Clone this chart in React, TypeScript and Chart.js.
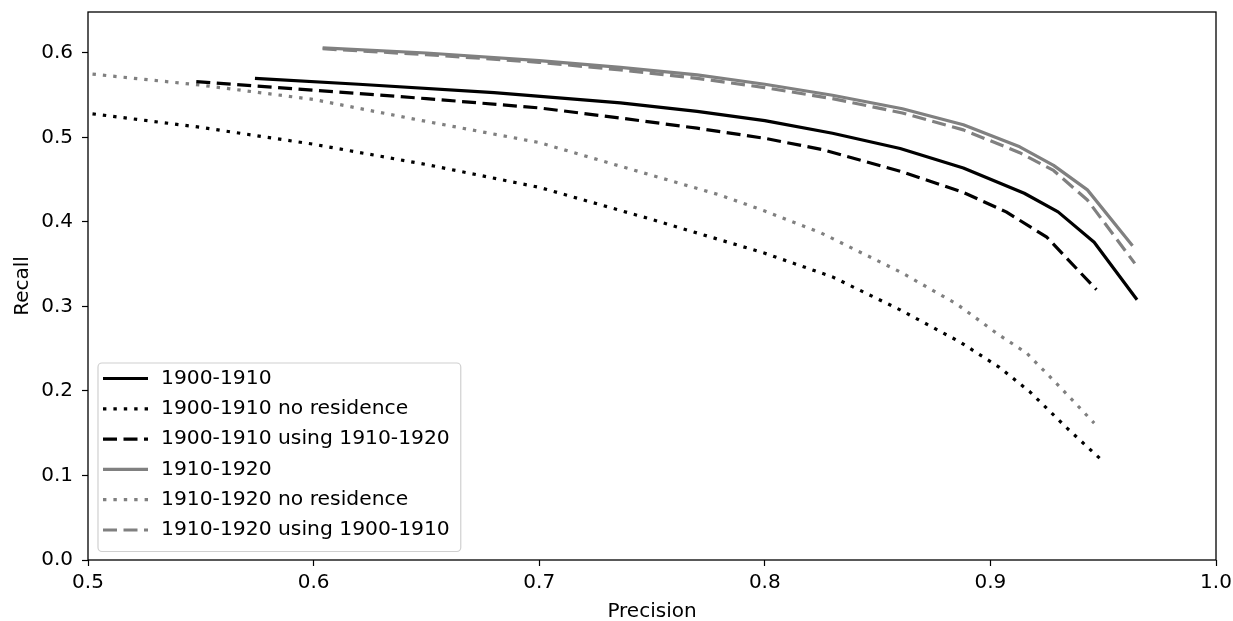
import React, { useEffect, useRef } from 'react';
import { Chart, registerables } from 'chart.js';

Chart.register(...registerables);

const FONT_FAMILY = '"DejaVu Sans", "Liberation Sans", sans-serif';
const FONT_SIZE = 20;
const LEGEND_FONT_SIZE = 20.3;

// Axis ticks
const xTickValues = [0.5, 0.6, 0.7, 0.8, 0.9, 1.0];
const yTickValues = [0.0, 0.1, 0.2, 0.3, 0.4, 0.5, 0.6];

// Series labels
const seriesLabels = [
  '1900-1910',
  '1900-1910 no residence',
  '1900-1910 using 1910-1920',
  '1910-1920',
  '1910-1920 no residence',
  '1910-1920 using 1900-1910',
];

// 1900-1910
const s1Precision = [0.574, 0.62, 0.68, 0.736, 0.77, 0.80, 0.83, 0.86, 0.888, 0.915, 0.93, 0.946, 0.965];
const s1Recall = [0.570, 0.563, 0.553, 0.541, 0.531, 0.520, 0.505, 0.487, 0.464, 0.434, 0.412, 0.376, 0.308];

// 1900-1910 no residence
const s2Precision = [0.502, 0.55, 0.6, 0.65, 0.7, 0.75, 0.8, 0.83, 0.86, 0.8865, 0.904, 0.9175, 0.934, 0.949];
const s2Recall = [0.528, 0.512, 0.492, 0.468, 0.441, 0.403, 0.363, 0.335, 0.296, 0.258, 0.228, 0.199, 0.156, 0.119];

// 1900-1910 using 1910-1920
const s3Precision = [0.548, 0.6, 0.65, 0.7, 0.736, 0.77, 0.8, 0.825, 0.86, 0.888, 0.907, 0.925, 0.947];
const s3Recall = [0.566, 0.556, 0.546, 0.535, 0.523, 0.511, 0.499, 0.486, 0.460, 0.435, 0.412, 0.382, 0.320];

// 1910-1920
const s4Precision = [0.604, 0.65, 0.7, 0.736, 0.77, 0.8, 0.83, 0.861, 0.888, 0.913, 0.928, 0.943, 0.963];
const s4Recall = [0.606, 0.600, 0.591, 0.583, 0.574, 0.563, 0.550, 0.534, 0.515, 0.489, 0.467, 0.438, 0.372];

// 1910-1920 no residence
const s5Precision = [0.502, 0.55, 0.6, 0.644, 0.7, 0.736, 0.78, 0.8, 0.825, 0.86, 0.885, 0.904, 0.916, 0.93, 0.946];
const s5Recall = [0.575, 0.562, 0.545, 0.522, 0.494, 0.466, 0.432, 0.413, 0.387, 0.341, 0.303, 0.266, 0.245, 0.207, 0.162];

// 1910-1920 using 1900-1910
const s6Precision = [0.604, 0.65, 0.7, 0.736, 0.77, 0.8, 0.83, 0.861, 0.888, 0.913, 0.928, 0.943, 0.964];
const s6Recall = [0.605, 0.598, 0.589, 0.580, 0.570, 0.559, 0.546, 0.529, 0.509, 0.482, 0.461, 0.426, 0.351];

const BLACK = '#000000';
const GREY = '#808080';
const LW = 3.2;
const SOLID: number[] = [];
const DASHED = [14, 6.5];
const DOTTED = [3.4, 7];

const toPoints = (xs: number[], ys: number[]) => xs.map((x, i) => ({ x, y: ys[i] }));

const framePlugin = {
  id: 'frame',
  afterDatasetsDraw(chart: any) {
    const { ctx, chartArea: ca } = chart;
    ctx.save();
    ctx.strokeStyle = '#000';
    ctx.lineWidth = 1.3;
    ctx.setLineDash([]);
    ctx.strokeRect(ca.left, ca.top, ca.right - ca.left, ca.bottom - ca.top);
    ctx.restore();
  },
};

const legendPlugin = {
  id: 'boxLegend',
  afterDraw(chart: any) {
    const { ctx, chartArea: ca } = chart;
    const datasets = chart.data.datasets;
    ctx.save();
    ctx.font = `${LEGEND_FONT_SIZE}px ${FONT_FAMILY}`;
    let maxW = 0;
    datasets.forEach((ds: any) => {
      maxW = Math.max(maxW, ctx.measureText(ds.label).width);
    });
    const left = ca.left + 10;
    const bottom = ca.bottom - 8.5;
    const height = 188.5;
    const top = bottom - height;
    const textX = left + 64;
    const width = 64 + maxW + 10;
    const r = 4;
    ctx.beginPath();
    ctx.moveTo(left + r, top);
    ctx.lineTo(left + width - r, top);
    ctx.arcTo(left + width, top, left + width, top + r, r);
    ctx.lineTo(left + width, bottom - r);
    ctx.arcTo(left + width, bottom, left + width - r, bottom, r);
    ctx.lineTo(left + r, bottom);
    ctx.arcTo(left, bottom, left, bottom - r, r);
    ctx.lineTo(left, top + r);
    ctx.arcTo(left, top, left + r, top, r);
    ctx.closePath();
    ctx.fillStyle = 'rgba(255,255,255,0.8)';
    ctx.fill();
    ctx.strokeStyle = '#d0d0d0';
    ctx.lineWidth = 1.2;
    ctx.stroke();

    datasets.forEach((ds: any, i: number) => {
      const y = top + 15.5 + i * 30.3;
      ctx.beginPath();
      ctx.setLineDash(ds.borderDash || []);
      ctx.lineCap = 'butt';
      ctx.lineWidth = ds.borderWidth;
      ctx.strokeStyle = ds.borderColor;
      ctx.moveTo(left + 5, y);
      ctx.lineTo(left + 50, y);
      ctx.stroke();
      ctx.setLineDash([]);
      ctx.fillStyle = '#000';
      ctx.textBaseline = 'middle';
      ctx.textAlign = 'left';
      ctx.fillText(ds.label, textX - 1, y);
    });
    ctx.restore();
  },
};

const zeroPadding = (s: any) => {
  s.paddingTop = 0;
  s.paddingBottom = 0;
  s.paddingLeft = 0;
  s.paddingRight = 0;
};

export default function App() {
  const ref = useRef<HTMLCanvasElement>(null);

  useEffect(() => {
    const canvas = ref.current;
    if (!canvas) return;
    const mk = (i: number, xs: number[], ys: number[], color: string, dash: number[]) => ({
      label: seriesLabels[i],
      data: toPoints(xs, ys),
      borderColor: color,
      backgroundColor: color,
      borderWidth: LW,
      borderDash: dash,
      borderCapStyle: 'butt' as const,
      borderJoinStyle: 'round' as const,
      pointRadius: 0,
      fill: false,
      tension: 0,
    });
    const chart = new Chart(canvas, {
      type: 'line',
      data: {
        datasets: [
          mk(0, s1Precision, s1Recall, BLACK, SOLID),
          mk(1, s2Precision, s2Recall, BLACK, DOTTED),
          mk(2, s3Precision, s3Recall, BLACK, DASHED),
          mk(3, s4Precision, s4Recall, GREY, SOLID),
          mk(4, s5Precision, s5Recall, GREY, DOTTED),
          mk(5, s6Precision, s6Recall, GREY, DASHED),
        ],
      },
      options: {
        responsive: false,
        animation: false,
        devicePixelRatio: 1,
        layout: { padding: { left: 0, top: 12, right: 17, bottom: 0 } },
        plugins: {
          legend: { display: false },
          tooltip: { enabled: false },
        },
        scales: {
          x: {
            type: 'linear',
            min: 0.5,
            max: 1.0,
            afterBuildTicks: (s: any) => {
              s.ticks = xTickValues.map((v) => ({ value: v }));
            },
            afterFit: (s: any) => {
              s.height = 61;
              zeroPadding(s);
            },
            ticks: {
              color: '#000',
              padding: 5,
              font: { family: FONT_FAMILY, size: FONT_SIZE, lineHeight: 1.2 },
              callback: (v: any) => Number(v).toFixed(1),
              maxRotation: 0,
              autoSkip: false,
            },
            grid: {
              display: true,
              drawOnChartArea: false,
              drawTicks: true,
              tickLength: 6,
              tickColor: '#000',
              tickWidth: 1.2,
            },
            border: { display: false },
            title: {
              display: true,
              text: 'Precision',
              color: '#000',
              font: { family: FONT_FAMILY, size: FONT_SIZE, lineHeight: 0.95 },
              padding: { top: 0, bottom: 0 },
            },
          },
          y: {
            type: 'linear',
            min: 0,
            max: 0.6485,
            afterBuildTicks: (s: any) => {
              s.ticks = yTickValues.map((v) => ({ value: v }));
            },
            afterFit: (s: any) => {
              s.width = 88;
              zeroPadding(s);
            },
            ticks: {
              color: '#000',
              padding: 9,
              font: { family: FONT_FAMILY, size: FONT_SIZE, lineHeight: 1.2 },
              callback: (v: any) => Number(v).toFixed(1),
              autoSkip: false,
            },
            grid: {
              display: true,
              drawOnChartArea: false,
              drawTicks: true,
              tickLength: 6,
              tickColor: '#000',
              tickWidth: 1.2,
            },
            border: { display: false },
            title: {
              display: true,
              text: 'Recall',
              color: '#000',
              font: { family: FONT_FAMILY, size: FONT_SIZE, lineHeight: 1.2 },
              padding: { top: 10.5, bottom: 0 },
            },
          },
        },
      },
      plugins: [framePlugin, legendPlugin],
    });
    return () => chart.destroy();
  }, []);

  return (
    <div style={{ position: 'fixed', left: 0, top: 0, width: 1233, height: 621, background: '#fff' }}>
      <canvas ref={ref} width={1233} height={621} style={{ display: 'block' }} />
    </div>
  );
}
